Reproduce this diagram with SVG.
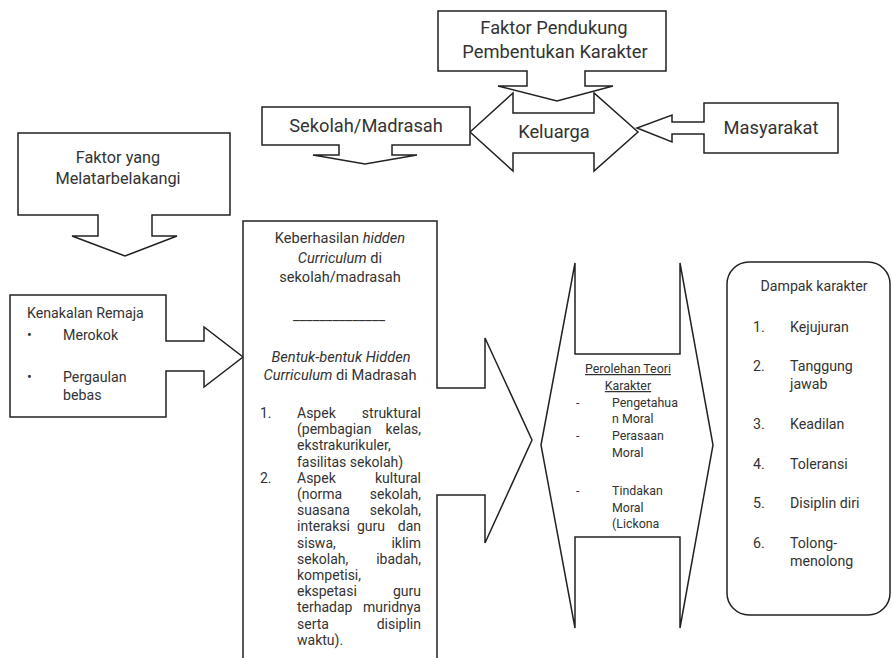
<svg xmlns="http://www.w3.org/2000/svg" width="893" height="658" viewBox="0 0 893 658">
<style>
.s{fill:#fff;stroke:#222;stroke-width:1.5;stroke-linejoin:miter}
text{font-family:Roboto,"Liberation Sans",sans-serif;fill:#333}
.t18{font-size:18.3px}
.t16{font-size:16.3px}
.t14{font-size:14.2px}
.h{font-size:14.6px}
.l{font-size:14px}
.t12{font-size:12.4px}
.c{text-anchor:middle}
.e{text-anchor:end}
.i{font-style:italic}
</style>
<rect width="893" height="658" fill="#fff"/>
<g id="connectors"></g>
<g id="keluarga">
<path class="s" d="M470,132 L513,93 V113 H594 V93 L638,132 L594,171 V153 H513 V171 Z"/>
<text class="t18 c" x="554" y="138">Keluarga</text>
</g>
<g id="faktor-pendukung">
<path class="s" d="M438,11 H666 V71 H585 V86 H613 L557,101 L498,86 H527 V71 H438 Z"/>
<text class="t18 c" x="554" y="34">Faktor Pendukung</text>
<text class="t18 c" x="555" y="58">Pembentukan Karakter</text>
</g>
<g id="sekolah">
<path class="s" d="M262,107 H470 V145 H392 V155 H417 L365,164 L313,155 H339 V145 H262 Z"/>
<text class="t18 c" x="366" y="132">Sekolah/Madrasah</text>
</g>
<g id="masyarakat">
<path class="s" d="M704,103 H838 V153 H704 V134 H672 V142 L637,128 L672,115 V122 H704 Z"/>
<text class="t18 c" x="771" y="134">Masyarakat</text>
</g>
<g id="faktor-latar">
<path class="s" d="M18,133 H230 V215 H152 V236 H177 L125,256 L72,236 H98 V215 H18 Z"/>
<text class="t16 c" x="118" y="163">Faktor yang</text>
<text class="t16 c" x="118" y="184">Melatarbelakangi</text>
</g>
<g id="kenakalan">
<path class="s" d="M10,295 H166 V341 H204 V327 L243,357 L204,387 V371 H166 V417 H10 Z"/>
<text class="t14" x="27" y="318">Kenakalan Remaja</text>
<text class="t14" x="27" y="340">•</text>
<text class="t14" x="63" y="340">Merokok</text>
<text class="t14" x="27" y="382">•</text>
<text class="t14" x="63" y="382">Pergaulan</text>
<text class="t14" x="63" y="400">bebas</text>
</g>
<g id="hidden-curriculum">
<path class="s" d="M243,221 H437 V388 H485 V338 L532,440 L485,543 V495 H437 V662 H243 Z"/>
<text class="h c" x="340" y="243">Keberhasilan <tspan class="i">hidden</tspan></text>
<text class="h c" x="340" y="263"><tspan class="i">Curriculum</tspan> di</text>
<text class="h c" x="340" y="282">sekolah/madrasah</text>
<text class="h c" x="339" y="320">______________</text>
<text class="h c i" x="341" y="362">Bentuk-bentuk Hidden</text>
<text class="h c" x="340" y="380"><tspan class="i">Curriculum</tspan> di Madrasah</text>
<g class="l">
<text x="260" y="418">1.</text>
<text x="297" y="418">Aspek</text><text class="e" x="421" y="418">struktural</text>
<text x="297" y="434.2">(pembagian</text><text class="e" x="421" y="434.2">kelas,</text>
<text x="297" y="450.4">ekstrakurikuler,</text>
<text x="297" y="466.6">fasilitas sekolah)</text>
<text x="260" y="482.8">2.</text>
<text x="297" y="482.8">Aspek</text><text class="e" x="421" y="482.8">kultural</text>
<text x="297" y="499">(norma</text><text class="e" x="421" y="499">sekolah,</text>
<text x="297" y="515.2">suasana</text><text class="e" x="421" y="515.2">sekolah,</text>
<text x="297" y="531.4">interaksi</text><text x="357" y="531.4">guru</text><text class="e" x="421" y="531.4">dan</text>
<text x="297" y="547.6">siswa,</text><text class="e" x="421" y="547.6">iklim</text>
<text x="297" y="563.8">sekolah,</text><text class="e" x="421" y="563.8">ibadah,</text>
<text x="297" y="580">kompetisi,</text>
<text x="297" y="596.2">ekspetasi</text><text class="e" x="421" y="596.2">guru</text>
<text x="297" y="612.4">terhadap</text><text class="e" x="421" y="612.4">muridnya</text>
<text x="297" y="628.6">serta</text><text class="e" x="421" y="628.6">disiplin</text>
<text x="297" y="644.8">waktu).</text>
</g>
</g>
<g id="perolehan">
<path class="s" d="M541,445 L575,263 V354 H680 V263 L713,445 L680,628 V537 H575 V628 Z"/>
<text class="t12 c" x="628" y="373" text-decoration="underline">Perolehan Teori</text>
<text class="t12 c" x="628" y="390" text-decoration="underline">Karakter</text>
<text class="t12" x="576" y="407">-</text><text class="t12" x="612" y="407">Pengetahua</text>
<text class="t12" x="612" y="423">n Moral</text>
<text class="t12" x="576" y="440">-</text><text class="t12" x="612" y="440">Perasaan</text>
<text class="t12" x="612" y="457">Moral</text>
<text class="t12" x="576" y="495">-</text><text class="t12" x="612" y="495">Tindakan</text>
<text class="t12" x="612" y="512">Moral</text>
<text class="t12" x="612" y="528">(Lickona</text>
</g>
<g id="dampak">
<rect class="s" x="727" y="262" width="163" height="353" rx="22"/>
<text class="t14 c" x="814" y="291">Dampak karakter</text>
<g class="t14">
<text x="753" y="332">1.</text><text x="790" y="332">Kejujuran</text>
<text x="753" y="371">2.</text><text x="790" y="371">Tanggung</text>
<text x="790" y="389">jawab</text>
<text x="753" y="429">3.</text><text x="790" y="429">Keadilan</text>
<text x="753" y="469">4.</text><text x="790" y="469">Toleransi</text>
<text x="753" y="508">5.</text><text x="790" y="508">Disiplin diri</text>
<text x="753" y="548">6.</text><text x="790" y="548">Tolong-</text>
<text x="790" y="566">menolong</text>
</g>
</g>
</svg>
